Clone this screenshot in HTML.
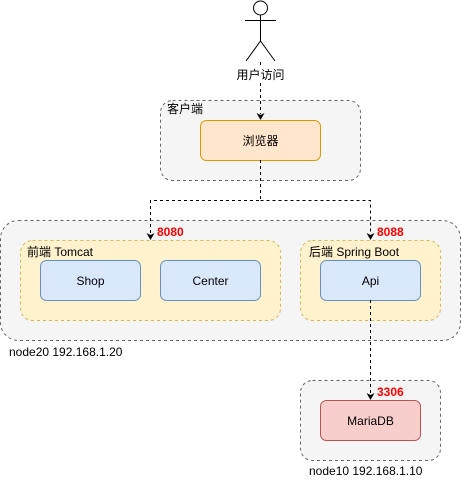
<!DOCTYPE html>
<html><head><meta charset="utf-8"><style>
html,body{margin:0;padding:0;background:#fff;}
svg{display:block;}
text{font-family:"Liberation Sans","Noto Sans CJK SC",sans-serif;font-size:12px;fill:#000;}
.r{fill:#ff0000;font-weight:bold;}
</style></head><body>
<svg width="461" height="481" viewBox="0 0 461 481" xmlns="http://www.w3.org/2000/svg">
<defs><marker id="a" markerWidth="8" markerHeight="8" refX="4" refY="7" orient="auto" markerUnits="userSpaceOnUse"><path d="M0,0 L4,7 L8,0 L4,2 Z" transform="rotate(0)" fill="#000"/></marker></defs>
<!-- groups -->
<rect x="160.5" y="100.5" width="200" height="80" rx="12" fill="#f5f5f5" stroke="#666" stroke-dasharray="3,3"/>
<text x="167" y="113">客户端</text>
<rect x="0.5" y="220.5" width="460" height="120" rx="18" fill="#f5f5f5" stroke="#666" stroke-dasharray="3,3"/>
<text x="9" y="356">node20 192.168.1.20</text>
<rect x="20.5" y="240.5" width="260" height="80" rx="12" fill="#fff2cc" stroke="#d6b656" stroke-dasharray="3,3"/>
<text x="27" y="256">前端 Tomcat</text>
<rect x="300.5" y="240.5" width="140" height="80" rx="12" fill="#fff2cc" stroke="#d6b656" stroke-dasharray="3,3"/>
<text x="309" y="256">后端 Spring Boot</text>
<rect x="300.5" y="380.5" width="140" height="80" rx="12" fill="#f5f5f5" stroke="#666" stroke-dasharray="3,3"/>
<text x="309" y="475">node10 192.168.1.10</text>
<!-- nodes -->
<rect x="200.5" y="120.5" width="120" height="40" rx="6" fill="#ffe6cc" stroke="#d79b00"/>
<text x="260.5" y="145" text-anchor="middle">浏览器</text>
<rect x="40.5" y="260.5" width="100" height="40" rx="6" fill="#dae8fc" stroke="#6c8ebf"/>
<text x="90.5" y="285" text-anchor="middle">Shop</text>
<rect x="160.5" y="260.5" width="100" height="40" rx="6" fill="#dae8fc" stroke="#6c8ebf"/>
<text x="210.5" y="285" text-anchor="middle">Center</text>
<rect x="320.5" y="260.5" width="100" height="40" rx="6" fill="#dae8fc" stroke="#6c8ebf"/>
<text x="370.5" y="285" text-anchor="middle">Api</text>
<rect x="320.5" y="400.5" width="100" height="40" rx="6" fill="#f8cecc" stroke="#b85450"/>
<text x="370.5" y="425" text-anchor="middle">MariaDB</text>
<!-- actor -->
<g stroke="#000" fill="none" stroke-width="1">
<circle cx="260.5" cy="8" r="7" fill="#fff"/>
<line x1="260.5" y1="15" x2="260.5" y2="41"/>
<line x1="245" y1="20.5" x2="276" y2="20.5"/>
<line x1="260.5" y1="41" x2="246" y2="61"/>
<line x1="260.5" y1="41" x2="275" y2="61"/>
</g>
<text x="260.5" y="79" text-anchor="middle">用户访问</text>
<!-- connectors -->
<g stroke="#000" fill="none" stroke-dasharray="3,3">
<line x1="260.5" y1="62" x2="260.5" y2="67"/>
<line x1="260.5" y1="83" x2="260.5" y2="114"/>
<polyline points="260.5,160 260.5,200.5 150.5,200.5 150.5,234"/>
<polyline points="260.5,200.5 370.5,200.5 370.5,234"/>
<line x1="370.5" y1="300" x2="370.5" y2="394"/>
</g>
<g fill="#000">
<path d="M256.5,113 L260.5,120 L264.5,113 L260.5,115 Z"/>
<path d="M146.5,233 L150.5,240 L154.5,233 L150.5,235 Z"/>
<path d="M366.5,233 L370.5,240 L374.5,233 L370.5,235 Z"/>
<path d="M366.5,393 L370.5,400 L374.5,393 L370.5,395 Z"/>
</g>
<text class="r" x="157" y="236">8080</text>
<text class="r" x="377" y="236">8088</text>
<text class="r" x="377" y="396">3306</text>
</svg>
</body></html>
